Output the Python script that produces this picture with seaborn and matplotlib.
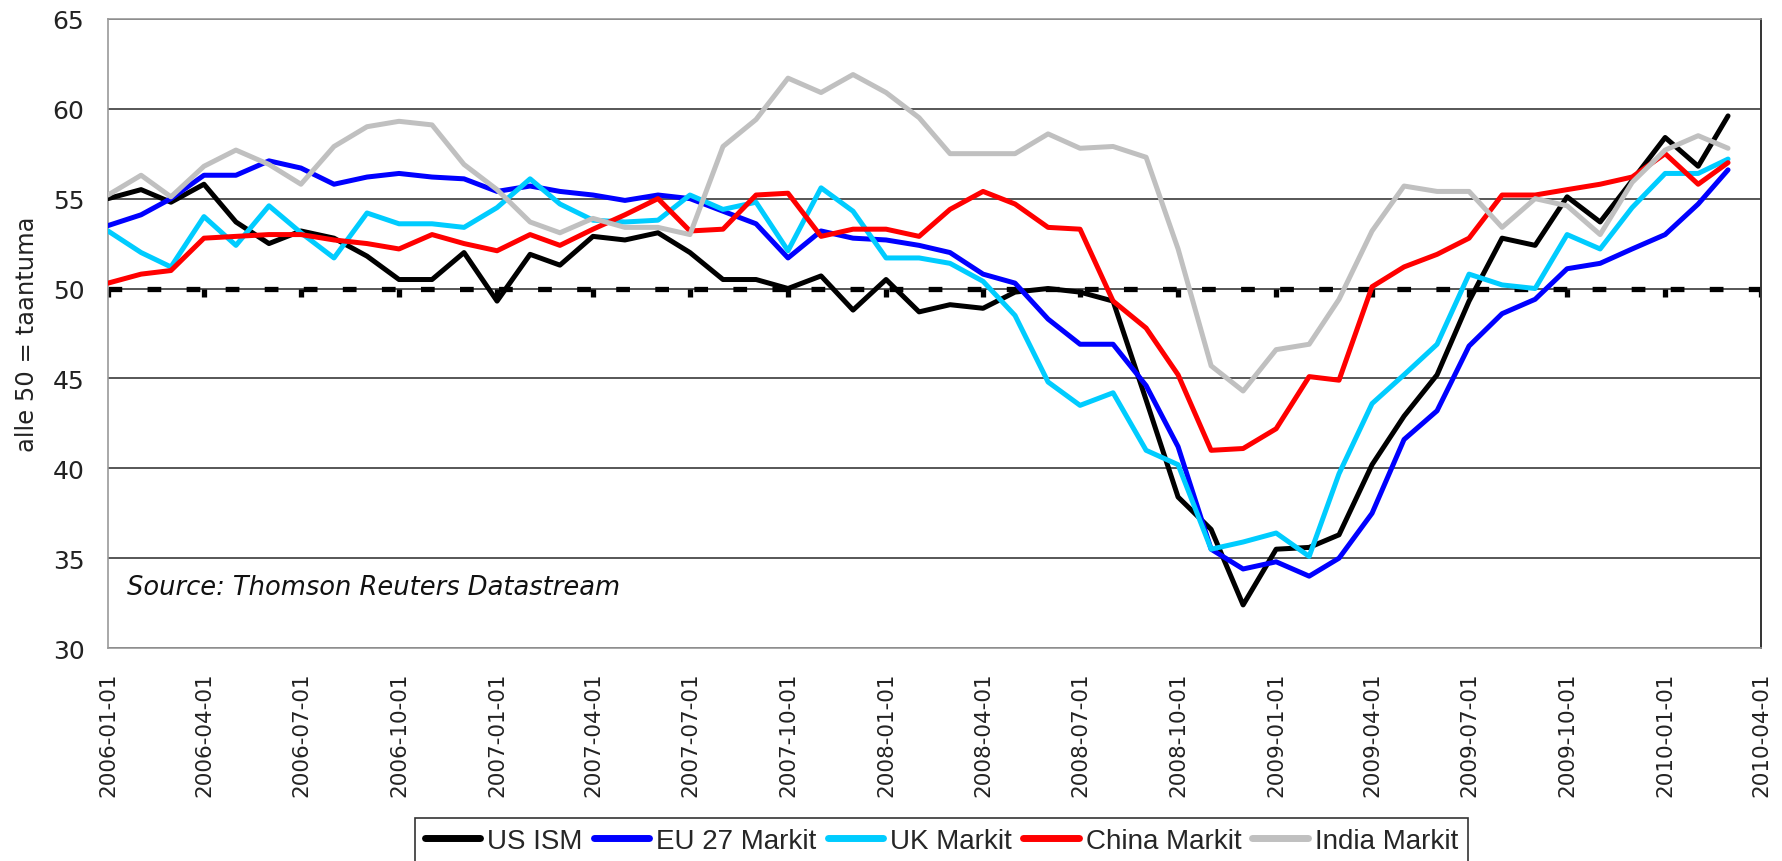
import numpy as np
import pandas as pd
import seaborn as sns
import matplotlib.pyplot as plt
from matplotlib.lines import Line2D

# monthly PMI readings, 2006-01 .. 2010-03
months = pd.date_range('2006-01-01', periods=51, freq='MS')

us_ism = [55.0, 55.5, 54.8, 55.8, 53.7, 52.5, 53.2, 52.8, 51.8, 50.5, 50.5, 52.0,
          49.3, 51.9, 51.3, 52.9, 52.7, 53.1, 52.0, 50.5, 50.5, 50.0, 50.7, 48.8,
          50.5, 48.7, 49.1, 48.9, 49.8, 50.0, 49.8, 49.3, 43.8, 38.4, 36.6, 32.4,
          35.5, 35.6, 36.3, 40.2, 42.9, 45.2, 49.3, 52.8, 52.4, 55.1, 53.7, 56.0,
          58.4, 56.8, 59.6]
eu27 = [53.5, 54.1, 55.0, 56.3, 56.3, 57.1, 56.7, 55.8, 56.2, 56.4, 56.2, 56.1,
        55.4, 55.7, 55.4, 55.2, 54.9, 55.2, 55.0, 54.3, 53.6, 51.7, 53.2, 52.8,
        52.7, 52.4, 52.0, 50.8, 50.3, 48.3, 46.9, 46.9, 44.6, 41.2, 35.5, 34.4,
        34.8, 34.0, 35.0, 37.5, 41.6, 43.2, 46.8, 48.6, 49.4, 51.1, 51.4, 52.2,
        53.0, 54.7, 56.6]
uk = [53.2, 52.0, 51.2, 54.0, 52.4, 54.6, 53.1, 51.7, 54.2, 53.6, 53.6, 53.4,
      54.5, 56.1, 54.7, 53.8, 53.7, 53.8, 55.2, 54.4, 54.8, 52.1, 55.6, 54.3,
      51.7, 51.7, 51.4, 50.4, 48.5, 44.8, 43.5, 44.2, 41.0, 40.2, 35.5, 35.9,
      36.4, 35.1, 39.7, 43.6, 45.2, 46.9, 50.8, 50.2, 50.0, 53.0, 52.2, 54.5,
      56.4, 56.4, 57.2]
china = [50.3, 50.8, 51.0, 52.8, 52.9, 53.0, 53.0, 52.7, 52.5, 52.2, 53.0, 52.5,
         52.1, 53.0, 52.4, 53.3, 54.1, 55.0, 53.2, 53.3, 55.2, 55.3, 52.9, 53.3,
         53.3, 52.9, 54.4, 55.4, 54.7, 53.4, 53.3, 49.3, 47.8, 45.2, 41.0, 41.1,
         42.2, 45.1, 44.9, 50.1, 51.2, 51.9, 52.8, 55.2, 55.2, 55.5, 55.8, 56.2,
         57.5, 55.8, 57.0]
india = [55.2, 56.3, 55.1, 56.8, 57.7, 56.9, 55.8, 57.9, 59.0, 59.3, 59.1, 56.9,
         55.5, 53.7, 53.1, 53.9, 53.4, 53.4, 53.0, 57.9, 59.4, 61.7, 60.9, 61.9,
         60.9, 59.5, 57.5, 57.5, 57.5, 58.6, 57.8, 57.9, 57.3, 52.2, 45.7, 44.3,
         46.6, 46.9, 49.4, 53.2, 55.7, 55.4, 55.4, 53.4, 55.0, 54.6, 53.0, 55.9,
         57.7, 58.5, 57.8]

names = ['US ISM', 'EU 27 Markit', 'UK Markit', 'China Markit', 'India Markit']
colors = ['#000000', '#0000FF', '#00CCFF', '#FF0000', '#C0C0C0']
yticks = [30, 35, 40, 45, 50, 55, 60, 65]
quarter_ticks = pd.date_range('2006-01-01', '2010-04-01', freq='QS')

df = pd.DataFrame({'date': months, names[0]: us_ism, names[1]: eu27, names[2]: uk,
                   names[3]: china, names[4]: india})
long_df = df.melt(id_vars='date', var_name='series', value_name='value')

sns.set_style('white')
plt.rcParams['font.family'] = ['DejaVu Sans']

fig, ax = plt.subplots(figsize=(17.83, 8.62), dpi=100)
fig.subplots_adjust(left=0.0606, right=0.9877, bottom=0.247, top=0.977)

# recession line at 50 with quarter tick marks hanging below
ax.axhline(50, color='black', lw=3.8, dashes=(2.6, 4.8), zorder=1)
ax.vlines(quarter_ticks, 49.5, 50, color='black', lw=3.8, zorder=1)

sns.lineplot(data=long_df, x='date', y='value', hue='series', hue_order=names,
             palette=colors, lw=3.6, ax=ax, legend=False, zorder=3)

ax.set_ylim(30, 65)
ax.set_yticks(yticks)
ax.set_xlim(quarter_ticks[0], quarter_ticks[-1])
ax.set_xticks(quarter_ticks)
ax.set_xticklabels([d.strftime('%Y-%m-%d') for d in quarter_ticks], rotation=90)
ax.tick_params(axis='x', length=0, pad=17, labelsize=15.5, labelcolor='#222222')
ax.tick_params(axis='y', length=0, pad=17, labelsize=18, labelcolor='#222222')
ax.yaxis.grid(True, color='#3a3a3a', lw=1.2)
ax.set_axisbelow(True)

for side in ['left', 'top', 'bottom']:
    ax.spines[side].set_color('#999999')
    ax.spines[side].set_linewidth(1.2)
ax.spines['right'].set_color('#333333')
ax.spines['right'].set_linewidth(1.4)

ax.set_xlabel('')
ax.set_ylabel('alle 50 = taantuma', fontsize=17.5, labelpad=10, color='#222222')

ax.text(0.0115, 0.097, 'Source: Thomson Reuters Datastream', transform=ax.transAxes,
        fontsize=18.5, style='italic', va='center', ha='left', color='#111111')

handles = [Line2D([0], [0], color=c, lw=5) for c in colors]
leg = fig.legend(handles, names, loc='lower center', bbox_to_anchor=(0.528, -0.003),
                 ncol=5, frameon=True, fancybox=False, edgecolor='black',
                 prop={'family': 'Liberation Sans', 'size': 20},
                 handlelength=2.0, handletextpad=0.25, columnspacing=0.4,
                 borderpad=0.35, borderaxespad=0.0)
leg.get_frame().set_linewidth(1.2)

plt.savefig('out.png', dpi=100)
